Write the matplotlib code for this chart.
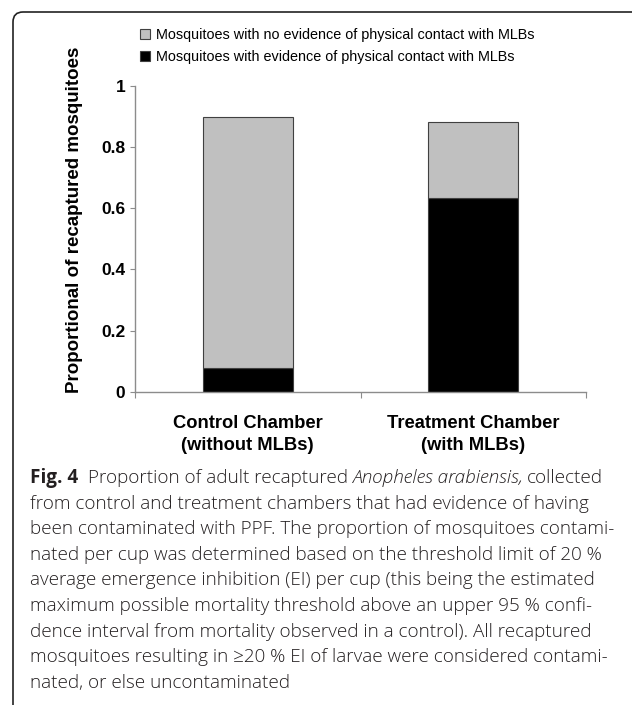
import matplotlib
matplotlib.use("Agg")
import matplotlib.pyplot as plt
from matplotlib.patches import FancyBboxPatch

# data
categories = ["Control Chamber\n(without MLBs)", "Treatment Chamber\n(with MLBs)"]
contact = [0.077, 0.634]
no_contact = [0.820, 0.246]
series_labels = [
    "Mosquitoes with no evidence of physical contact with MLBs",
    "Mosquitoes with evidence of physical contact with MLBs",
]
y_ticks = [0, 0.2, 0.4, 0.6, 0.8, 1.0]
y_ticklabels = ["0", "0.2", "0.4", "0.6", "0.8", "1"]
y_label = "Proportional of recaptured mosquitoes"

caption_lines = [
    [("Fig. 4", "bold", 0), ("Proportion of adult recaptured", "normal", 10),
     ("Anopheles arabiensis,", "italic", 4), ("collected", "normal", 4)],
    [("from control and treatment chambers that had evidence of having", "normal", 0)],
    [("been contaminated with PPF. The proportion of mosquitoes contami-", "normal", 0)],
    [("nated per cup was determined based on the threshold limit of 20 %", "normal", 0)],
    [("average emergence inhibition (EI) per cup (this being the estimated", "normal", 0)],
    [("maximum possible mortality threshold above an upper 95 % confi-", "normal", 0)],
    [("dence interval from mortality observed in a control). All recaptured", "normal", 0)],
    [("mosquitoes resulting in \u226520 % EI of larvae were considered contami-", "normal", 0)],
    [("nated, or else uncontaminated", "normal", 0)],
]

W, H = 632, 705
fig = plt.figure(figsize=(W / 100, H / 100), dpi=100)

# rounded frame running off the right and bottom edges
frame = FancyBboxPatch((0.23, -1.0), 8.0, 7.83, boxstyle="round,pad=0.1",
                       transform=fig.dpi_scale_trans, fill=False,
                       edgecolor="#222222", linewidth=1.2)
fig.patches.append(frame)

ax = fig.add_axes([135 / W, (H - 392) / H, 451 / W, 306.5 / H])

x = list(range(len(categories)))
b1 = ax.bar(x, contact, width=0.40, color="black", edgecolor="#404040", linewidth=0.8)
b2 = ax.bar(x, no_contact, width=0.40, bottom=contact, color="#c0c0c0",
            edgecolor="#404040", linewidth=0.8)

ax.set_xlim(-0.5, 1.5)
ax.set_ylim(0, 1)
for s in ["top", "right"]:
    ax.spines[s].set_visible(False)
for s in ["left", "bottom"]:
    ax.spines[s].set_color("#8c8c8c")
    ax.spines[s].set_linewidth(1.0)

ax.set_yticks(y_ticks)
ax.set_yticklabels(y_ticklabels, fontfamily="Liberation Sans", fontweight="bold", fontsize=12.5)
ax.tick_params(axis="y", length=3.6, color="#8c8c8c", pad=3.5)

ax.set_xticks([-0.5, 0.5, 1.5])
ax.set_xticklabels([])
ax.tick_params(axis="x", which="major", length=4, color="#8c8c8c")
ax.set_xticks(x, minor=True)
ax.set_xticklabels(categories, minor=True, fontfamily="Liberation Sans",
                   fontweight="bold", fontsize=13.2, linespacing=1.4)
ax.tick_params(axis="x", which="minor", length=0, pad=16.5)

fig.text(75 / W, 1 - 220 / H, y_label, rotation=90, ha="center", va="center",
         fontfamily="Liberation Sans", fontweight="bold", fontsize=13.5)

ax.legend([b2, b1], series_labels, loc="upper left",
          bbox_to_anchor=(140 / W, 1 - 28 / H), bbox_transform=fig.transFigure,
          frameon=False, borderpad=0, borderaxespad=0, handlelength=0.68,
          handleheight=0.68, handletextpad=0.4, labelspacing=0.55,
          prop={"family": "Liberation Sans", "size": 10.4})

# caption, line by line, runs chained by measured width
renderer = fig.canvas.get_renderer()
cap_font = ["Open Sans", "DejaVu Sans"]
for i, runs in enumerate(caption_lines):
    xpos = 30
    ybase = 483 + 25.6 * i
    for text, style, gap in runs:
        xpos += gap
        kw = {"fontweight": "bold"} if style == "bold" else {"fontweight": "light"}
        if style == "italic":
            kw["fontstyle"] = "italic"
        t = fig.text(xpos / W, 1 - ybase / H, text, ha="left", va="baseline",
                     fontfamily=cap_font, fontsize=13.6, color="#231f20", **kw)
        xpos = t.get_window_extent(renderer).x1

fig.savefig("out.png", dpi=100)
